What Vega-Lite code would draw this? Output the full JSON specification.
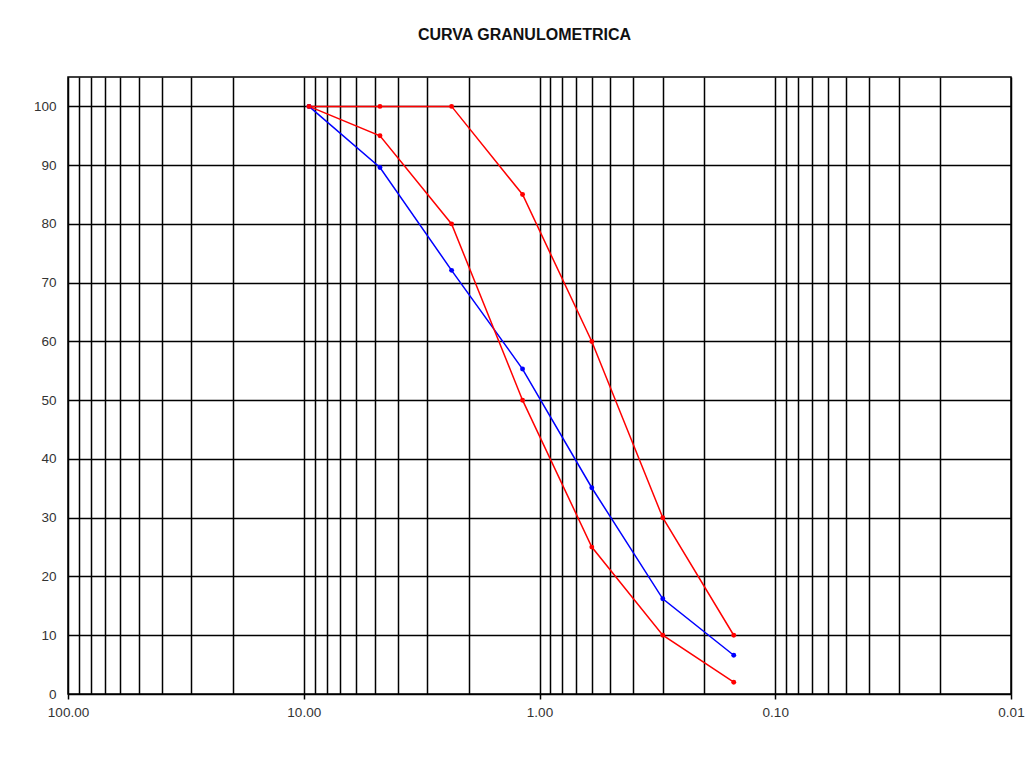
{
  "$schema": "https://vega.github.io/schema/vega-lite/v6.json",
  "width": 943,
  "height": 617,
  "autosize": {"type": "none"},
  "padding": {"left": 68, "top": 77, "right": 19, "bottom": 79},
  "background": "white",
  "title": {
    "text": "CURVA GRANULOMETRICA",
    "font": "Liberation Sans",
    "fontSize": 16,
    "fontWeight": "bold",
    "color": "#111",
    "anchor": "middle",
    "frame": "group",
    "dx": -15,
    "offset": 34
  },
  "config": {
    "view": {"stroke": "black", "strokeWidth": 1.5},
    "axis": {"labelFont": "Liberation Sans", "labelFontSize": 13.5, "labelColor": "#333"}
  },
  "data": {
    "values": [
      {"abertura": 9.5, "serie": "Superior", "pasa": 100},
      {"abertura": 4.75, "serie": "Superior", "pasa": 100},
      {"abertura": 2.36, "serie": "Superior", "pasa": 100},
      {"abertura": 1.18, "serie": "Superior", "pasa": 85},
      {"abertura": 0.6, "serie": "Superior", "pasa": 60},
      {"abertura": 0.3, "serie": "Superior", "pasa": 30},
      {"abertura": 0.15, "serie": "Superior", "pasa": 10},
      {"abertura": 9.5, "serie": "Muestra", "pasa": 100},
      {"abertura": 4.75, "serie": "Muestra", "pasa": 89.6},
      {"abertura": 2.36, "serie": "Muestra", "pasa": 72.1},
      {"abertura": 1.18, "serie": "Muestra", "pasa": 55.3},
      {"abertura": 0.6, "serie": "Muestra", "pasa": 35.1},
      {"abertura": 0.3, "serie": "Muestra", "pasa": 16.2},
      {"abertura": 0.15, "serie": "Muestra", "pasa": 6.6},
      {"abertura": 9.5, "serie": "Inferior", "pasa": 100},
      {"abertura": 4.75, "serie": "Inferior", "pasa": 95},
      {"abertura": 2.36, "serie": "Inferior", "pasa": 80},
      {"abertura": 1.18, "serie": "Inferior", "pasa": 50},
      {"abertura": 0.6, "serie": "Inferior", "pasa": 25},
      {"abertura": 0.3, "serie": "Inferior", "pasa": 10},
      {"abertura": 0.15, "serie": "Inferior", "pasa": 2}
    ]
  },
  "mark": {"type": "line", "strokeWidth": 1.5, "point": {"filled": true, "size": 24}},
  "encoding": {
    "x": {
      "field": "abertura",
      "type": "quantitative",
      "scale": {"type": "log", "domain": [100, 0.01], "nice": false},
      "axis": {
        "title": null,
        "domain": false,
        "values": [100, 90, 80, 70, 60, 50, 40, 30, 20, 10, 9, 8, 7, 6, 5, 4, 3, 2, 1, 0.9, 0.8, 0.7, 0.6, 0.5, 0.4, 0.3, 0.2, 0.1, 0.09, 0.08, 0.07, 0.06, 0.05, 0.04, 0.03, 0.02, 0.01],
        "grid": true,
        "gridColor": "black",
        "gridWidth": 1.5,
        "gridOpacity": 1,
        "ticks": true,
        "tickSize": 5,
        "tickWidth": 1.5,
        "tickColor": "black",
        "tickOpacity": {"condition": {"test": "indexof([100,10,1,0.1,0.01], datum.value) >= 0", "value": 1}, "value": 0},
        "labelExpr": "indexof([100,10,1,0.1,0.01], datum.value) >= 0 ? format(datum.value, '.2f') : ''",
        "labelPadding": 6,
        "labelFlush": false,
        "labelOverlap": false,
        "labelBound": false
      }
    },
    "y": {
      "field": "pasa",
      "type": "quantitative",
      "scale": {"domain": [0, 105], "nice": false},
      "axis": {
        "title": null,
        "domain": false,
        "values": [0, 10, 20, 30, 40, 50, 60, 70, 80, 90, 100],
        "grid": true,
        "gridColor": "black",
        "gridWidth": 1.5,
        "gridOpacity": 1,
        "ticks": false,
        "labelPadding": 12
      }
    },
    "color": {
      "field": "serie",
      "type": "nominal",
      "scale": {"domain": ["Superior", "Muestra", "Inferior"], "range": ["#ff0000", "#0000ff", "#ff0000"]},
      "legend": null
    }
  }
}
